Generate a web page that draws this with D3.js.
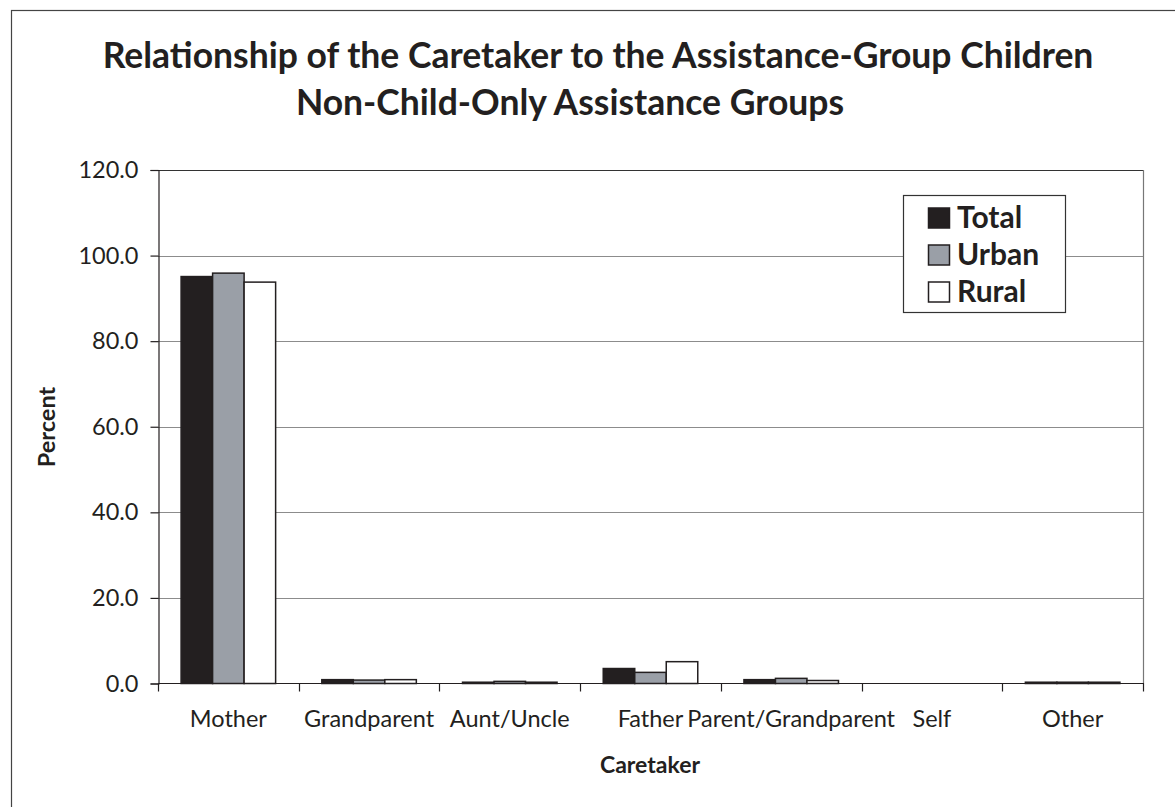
<!DOCTYPE html>
<html>
<head>
<meta charset="utf-8">
<script src="https://cdn.jsdelivr.net/npm/d3@7"></script>
<style>
  html, body { margin: 0; padding: 0; background: #fff; }
  svg { display: block; font-family: Lato, "Open Sans", sans-serif; }
</style>
</head>
<body>
<svg id="chart" width="1175" height="807"></svg>
<script>
const categories = ["Mother", "Grandparent", "Aunt/Uncle", "Father", "Parent/Grandparent", "Self", "Other"];
const seriesNames = ["Total", "Urban", "Rural"];
const totalValues = [95.1, 0.9, 0.3, 3.5, 0.9, 0.0, 0.3];
const urbanValues = [95.9, 0.8, 0.5, 2.6, 1.2, 0.0, 0.3];
const ruralValues = [93.8, 0.9, 0.3, 5.1, 0.7, 0.0, 0.3];
const yTicks = [0, 20, 40, 60, 80, 100, 120];
const titleLines = ["Relationship of the Caretaker to the Assistance-Group Children", "Non-Child-Only Assistance Groups"];

const seriesValues = { Total: totalValues, Urban: urbanValues, Rural: ruralValues };
const colors = { Total: "#231f20", Urban: "#9a9fa7", Rural: "#ffffff" };
const ink = "#231f20";

const svg = d3.select("#chart");
const plot = { left: 158, right: 1143, top: 170, bottom: 683.5 };

// outer frame (cropped at right and bottom)
svg.append("rect").attr("x", 11.5).attr("y", 10.5).attr("width", 1200).attr("height", 900)
  .attr("fill", "none").attr("stroke", "#444").attr("stroke-width", 1.2);

// title
svg.append("text").attr("x", 598).attr("y", 68).attr("text-anchor", "middle")
  .attr("font-size", 35.5).attr("font-weight", 700).attr("fill", ink).text(titleLines[0]);
svg.append("text").attr("x", 570).attr("y", 115).attr("text-anchor", "middle")
  .attr("font-size", 35.5).attr("font-weight", 700).attr("fill", ink).text(titleLines[1]);

const y = d3.scaleLinear().domain([0, 120]).range([plot.bottom, plot.top]);
const x0 = d3.scaleBand().domain(categories).range([plot.left, plot.right]).paddingInner(0).paddingOuter(0);
const x1 = d3.scaleBand().domain(seriesNames).range([0, x0.bandwidth()]).paddingInner(0).paddingOuter(0.733);

// gridlines
svg.append("g").selectAll("line").data(yTicks.filter(d => d > 0)).join("line")
  .attr("x1", plot.left).attr("x2", plot.right)
  .attr("y1", d => Math.round(y(d)) + 0.5).attr("y2", d => Math.round(y(d)) + 0.5)
  .attr("stroke", d => d === 120 ? "#333" : "#8c8c8c").attr("stroke-width", 1);

// right border
svg.append("line").attr("x1", plot.right + 0.5).attr("x2", plot.right + 0.5)
  .attr("y1", plot.top).attr("y2", plot.bottom).attr("stroke", "#777").attr("stroke-width", 1.2);

// bars
const groups = svg.append("g").selectAll("g").data(categories).join("g")
  .attr("transform", d => `translate(${x0(d)},0)`);
groups.selectAll("rect")
  .data((c, i) => seriesNames.map(s => ({ s, v: seriesValues[s][i] })).filter(d => d.v > 0))
  .join("rect")
  .attr("x", d => x1(d.s))
  .attr("width", x1.bandwidth())
  .attr("y", d => y(d.v))
  .attr("height", d => y(0) - y(d.v))
  .attr("fill", d => colors[d.s])
  .attr("stroke", ink).attr("stroke-width", 1.5);

// y axis
const yAxis = svg.append("g").attr("transform", `translate(${plot.left + 0.5},0)`)
  .call(d3.axisLeft(y).tickValues(yTicks).tickFormat(d3.format(".1f")).tickSize(8).tickPadding(12));
yAxis.select(".domain").attr("stroke", ink).attr("stroke-width", 1.2);
yAxis.selectAll(".tick line").attr("stroke", ink).attr("stroke-width", 1.2);
yAxis.selectAll(".tick text").attr("font-size", 23.5).attr("fill", ink).attr("font-family", "Lato, sans-serif");

// x axis line and category boundary ticks
const xAxisG = svg.append("g");
xAxisG.append("line").attr("x1", plot.left).attr("x2", plot.right + 1)
  .attr("y1", plot.bottom).attr("y2", plot.bottom).attr("stroke", ink).attr("stroke-width", 1.2);
const boundaries = categories.map(c => x0(c)).concat([x0(categories[categories.length - 1]) + x0.bandwidth()]);
xAxisG.selectAll("line.tk").data(boundaries).join("line").attr("class", "tk")
  .attr("x1", d => Math.round(d) + 0.5).attr("x2", d => Math.round(d) + 0.5)
  .attr("y1", plot.bottom).attr("y2", plot.bottom + 8).attr("stroke", ink).attr("stroke-width", 1.2);
xAxisG.selectAll("text").data(categories).join("text")
  .attr("x", d => x0(d) + x0.bandwidth() / 2).attr("y", 727)
  .attr("text-anchor", "middle").attr("font-size", 23.5).attr("fill", ink).text(d => d);

// axis titles
svg.append("text").attr("x", 650).attr("y", 773).attr("text-anchor", "middle")
  .attr("font-size", 23).attr("font-weight", 700).attr("fill", ink).text("Caretaker");
svg.append("text").attr("transform", "translate(55,427) rotate(-90)").attr("text-anchor", "middle")
  .attr("font-size", 23.5).attr("font-weight", 700).attr("fill", ink).text("Percent");

// legend
const legend = svg.append("g").attr("transform", "translate(903,195)");
legend.append("rect").attr("x", 0.5).attr("y", 0.5).attr("width", 162).attr("height", 117)
  .attr("fill", "#fff").attr("stroke", "#333").attr("stroke-width", 1.2);
const items = legend.selectAll("g").data(seriesNames).join("g")
  .attr("transform", (d, i) => `translate(0,${13 + i * 37})`);
items.append("rect").attr("x", 25.5).attr("y", 0).attr("width", 21).attr("height", 20)
  .attr("fill", d => colors[d]).attr("stroke", ink).attr("stroke-width", 1.5);
items.append("text").attr("x", 54).attr("y", 20).attr("font-size", 30).attr("font-weight", 700)
  .attr("fill", ink).text(d => d);
</script>
</body>
</html>
